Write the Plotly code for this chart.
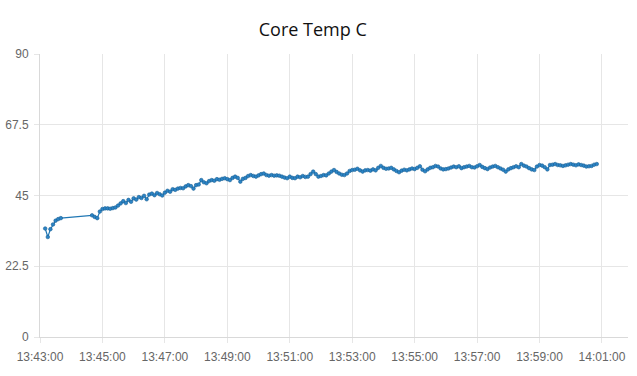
import pandas as pd
import plotly.graph_objects as go

DAY = "2020-01-01 "

# first burst of readings (5 s sampling)
start_1 = "13:43:10"
temps_1 = [34.5, 31.8, 34.3, 35.8, 37.0, 37.5, 37.8]

# readings after the gap (5 s sampling)
start_2 = "13:44:40"
temps_2 = [
    38.7, 38.2, 37.8, 39.9,
    40.7, 40.9, 40.9, 40.8, 41.0, 41.2, 41.8, 42.5, 43.2, 42.6, 43.6, 43.0,
    44.1, 43.7, 44.5, 44.2, 44.9, 43.8, 45.3, 45.6, 45.1, 45.8, 45.4, 45.0,
    45.9, 46.5, 46.2, 47.0, 46.8, 47.2, 47.4, 47.3, 47.9, 48.3, 48.0, 47.2,
    48.3, 48.5, 49.9, 49.2, 48.9, 49.6, 49.9, 49.7, 50.2, 50.0, 50.3, 50.5,
    50.2, 49.9, 50.6, 51.0, 50.6, 49.4, 50.3, 50.6, 51.2, 51.5, 51.2, 51.0,
    51.4, 51.8, 52.0, 51.5, 51.3, 51.5, 51.3, 51.4, 51.3, 51.0, 50.7, 50.5,
    51.0, 50.6, 50.5, 51.0, 50.8, 51.2, 50.9, 51.0, 51.8, 52.6, 51.8, 51.0,
    51.2, 51.5, 51.4, 52.0, 52.6, 53.1, 52.5, 52.0, 51.6, 51.5, 52.0, 52.8,
    53.1, 53.2, 53.5, 53.0, 52.6, 53.0, 53.1, 52.9, 53.3, 53.0, 53.8, 54.4,
    53.8, 53.5, 53.6, 53.8, 53.3, 52.8, 52.4, 52.9, 53.2, 53.0, 53.3, 53.6,
    53.4, 53.8, 54.3, 53.2, 52.7, 53.3, 53.8, 54.0, 54.4, 54.2, 53.6, 53.3,
    53.4, 53.6, 53.9, 54.2, 54.0, 54.3, 53.7, 54.0, 54.2, 54.4, 54.0, 53.9,
    54.3, 54.7, 54.1, 53.7, 53.4, 53.9, 54.2, 54.4, 54.0, 53.6, 53.2, 52.6,
    53.3, 53.7, 54.0, 54.3, 54.0, 55.0, 54.5, 54.2, 53.7, 53.3, 53.1, 54.2,
    54.7, 54.5, 54.0, 53.3, 54.7, 54.8, 55.0, 54.7, 54.6, 54.4, 54.6, 54.8,
    55.0, 54.8, 54.6, 54.9, 54.7, 54.5, 54.2, 54.3, 54.4, 54.8, 55.0,
]
SAMPLE = "5s"

y_ticks = [0, 22.5, 45, 67.5, 90]
y_tick_labels = ["0", "22.5", "45", "67.5", "90"]
x_start, x_end = "13:43:00", "14:01:50"

t1 = pd.date_range(DAY + start_1, periods=len(temps_1), freq=SAMPLE)
t2 = pd.date_range(DAY + start_2, periods=len(temps_2), freq=SAMPLE)
times = list(t1) + list(t2)
temps = temps_1 + temps_2

color = "#1f77b4"
fig = go.Figure(go.Scatter(
    x=times, y=temps, mode="lines+markers",
    line=dict(color=color, width=1.2),
    marker=dict(color="#2b84c6", size=3.6, line=dict(width=0.6, color="#1a5f94")),
    hoverinfo="x+y",
))

grid = "#e6e6e6"
fig.update_layout(
    width=637, height=376,
    margin=dict(l=40, r=9, t=54, b=39),
    paper_bgcolor="white", plot_bgcolor="white",
    showlegend=False,
    title=dict(text="Core Temp C", xref="container", x=0.491, xanchor="center",
               yref="container", y=0.92, yanchor="middle",
               font=dict(family="Open Sans, Noto Sans, sans-serif", size=18, color="#111")),
    font=dict(family="Liberation Sans, Arial, sans-serif", size=12, color="#666"),
)
fig.update_xaxes(
    range=[DAY + x_start, DAY + x_end], automargin=False,
    dtick=120000, tick0=DAY + "13:43:00", tickformat="%H:%M:%S",
    showgrid=True, gridcolor=grid, gridwidth=1,
    ticks="outside", ticklen=5, tickcolor=grid, ticklabelstandoff=4,
    showline=True, linecolor="#d9d9d9", linewidth=1,
    zeroline=False, tickfont=dict(size=12, color="#666"),
)
fig.update_yaxes(
    range=[0, 90], tickvals=y_ticks, ticktext=y_tick_labels, automargin=False,
    showgrid=True, gridcolor=grid, gridwidth=1,
    ticks="outside", ticklen=5, tickcolor=grid, ticklabelstandoff=3,
    showline=True, linecolor="#d9d9d9", linewidth=1,
    zeroline=False, tickfont=dict(size=12, color="#666"),
)

fig.write_html("out.html", config={"displayModeBar": False},
               post_script="document.body.style.margin='0';")
